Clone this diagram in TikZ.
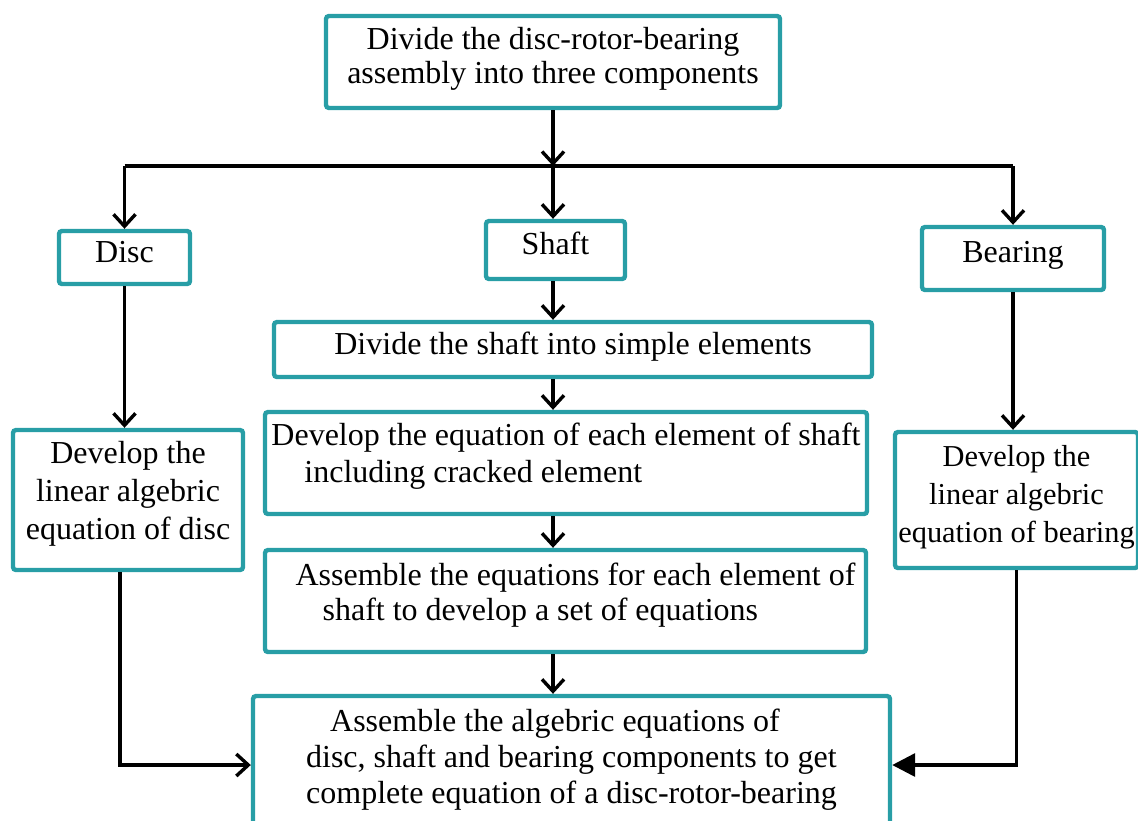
\documentclass[tikz,border=0pt]{standalone}
\usepackage{fontspec}
\setmainfont{Liberation Serif}
\usetikzlibrary{arrows.meta}
\definecolor{boxteal}{RGB}{40,158,166}
% text block of a box, lifted a little above the box centre
\newcommand{\boxtext}[3][c]{\raisebox{#2}[\height][\depth]{\begin{tabular}{@{}#1@{}}#3\end{tabular}}}
\tikzset{
  box/.style={draw=boxteal, line width=2.2pt, rounded corners=1.5pt, inner sep=0pt,
    font=\fontsize{16}{17.5}\selectfont},
  arr/.style={line width=1.7pt, -{Straight Barb[length=6pt,width=11pt,line width=1.7pt]}},
  arrfill/.style={line width=1.7pt, -{Triangle[length=11.5pt,width=11.5pt]}}
}
\begin{document}
\begin{tikzpicture}[x=0.5pt, y=-0.5pt]
  \useasboundingbox (0,0) rectangle (1138,820);

  % Top box
  \node[box, minimum width=227pt, minimum height=46pt, font=\fontsize{16}{17}\selectfont] (top) at (553,62)
    {\boxtext{1pt}{Divide the disc-rotor-bearing\\assembly into three components}};

  % Three components
  \node[box, minimum width=65.5pt, minimum height=26.5pt] (disc) at (124.5,257.5) {\boxtext{1.25pt}{Disc}};
  \node[box, minimum width=69.5pt, minimum height=29pt] (shaft) at (555.5,250) {\boxtext{1.5pt}{Shaft}};
  \node[box, minimum width=91pt, minimum height=31.5pt] (bearing) at (1013,258.5) {\boxtext{1.75pt}{Bearing}};

  % Shaft steps
  \node[box, minimum width=299pt, minimum height=27.5pt] (shdiv) at (573,349.5)
    {\boxtext{1.25pt}{Divide the shaft into simple elements}};
  \node[box, minimum width=301pt, minimum height=51pt, font=\fontsize{16}{18.5}\selectfont] (sheq) at (566,463)
    {\boxtext[l]{3.25pt}{Develop the equation of each element of shaft\\\hspace*{16.5pt}including cracked element}};
  \node[box, minimum width=300.5pt, minimum height=51pt] (shasm) at (565.5,601)
    {\hspace*{10pt}\boxtext[l]{2.75pt}{Assemble the equations for each element of\\\hspace*{13.5pt}shaft to develop a set of equations}};

  % Disc and bearing equations
  \node[box, minimum width=115pt, minimum height=70pt, font=\fontsize{16}{19}\selectfont] (discdev) at (128,500)
    {\boxtext{2.85pt}{Develop the\\linear algebric\\equation of disc}};
  \node[box, minimum width=121.5pt, minimum height=68pt, font=\fontsize{15.2}{19}\selectfont] (beardev) at (1016.5,500)
    {\boxtext{1.35pt}{Develop the\\linear algebric\\equation of bearing}};

  % Final box
  \node[box, minimum width=318.5pt, minimum height=69pt, font=\fontsize{16}{18}\selectfont] (final) at (571.5,765)
    {\boxtext[l]{2.3pt}{\hspace*{12pt}Assemble the algebric equations of\\disc, shaft and bearing components to get\\complete equation of a disc-rotor-bearing}};

  % Split into components
  \coordinate (split) at (553,166);
  \draw[arr] (top.south) -- (split);
  \draw[line width=1.7pt] (disc.north |- split) -- (bearing.north |- split);
  \draw[arr] (disc.north |- split) -- (disc.north);
  \draw[arr] (split) -- (split |- shaft.north);
  \draw[arr] (bearing.north |- split) -- (bearing.north);

  % Arrows down the middle
  \draw[arr] (split |- shaft.south) -- (split |- shdiv.north);
  \draw[arr] (split |- shdiv.south) -- (split |- sheq.north);
  \draw[arr] (split |- sheq.south) -- (split |- shasm.north);
  \draw[arr] (split |- shasm.south) -- (split |- final.north);

  % Side arrows
  \draw[arr] (disc.south) -- (disc.south |- discdev.north);
  \draw[arr] (bearing.south) -- (bearing.south |- beardev.north);
  \draw[arr] ([xshift=-4pt]discdev.south) |- (final.west);
  \draw[arrfill] (beardev.south) |- (final.east);
\end{tikzpicture}
\end{document}
